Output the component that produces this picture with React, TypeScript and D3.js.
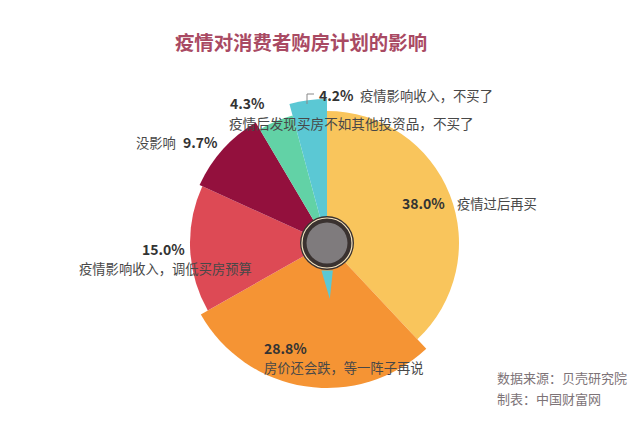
import React from 'react';
import * as d3 from 'd3';

// chart data
const categories = [
  '疫情过后再买',
  '房价还会跌，等一阵子再说',
  '疫情影响收入，调低买房预算',
  '没影响',
  '疫情后发现买房不如其他投资品，不买了',
  '疫情影响收入，不买了',
];
const shares = [38.0, 28.8, 15.0, 9.7, 4.3, 4.2];
const sliceColors = ['#F9C55C', '#F59434', '#DD4A55', '#93103D', '#62D2A6', '#5BC8D4'];

// each wedge is drawn with its own outer radius
const outerRadii = [132, 145, 137, 140, 132, 144];

const W = 640;
const H = 421;
const cx = 327;
const cy = 243;

const FONT = '"Noto Sans CJK SC", "Noto Sans", sans-serif';

export default function App() {
  const pie = d3.pie<number>().sort(null).value(d => d);
  const arcs = pie(shares);
  const arc = d3.arc<d3.PieArcDatum<number>>().innerRadius(0);

  // thin cyan sliver poking out below the hub
  const sliver = d3.line()([
    d3.pointRadial(Math.PI - 0.21, 28),
    d3.pointRadial(Math.PI - 0.05, 56),
    d3.pointRadial(Math.PI + 0.2, 28),
  ]) + 'Z';

  const pct = (i: number) => `${shares[i].toFixed(1)}%`;
  const pctStyle = { fontFamily: FONT, fontSize: 14, fontWeight: 700, fill: '#333' } as const;
  const txtStyle = { fontFamily: FONT, fontSize: 13.3, fill: '#484848' } as const;

  return (
    <svg width={W} height={H} style={{ position: 'absolute', left: 0, top: 0, background: '#fff' }}>
      <text x={301} y={41} textAnchor="middle" dominantBaseline="central"
        style={{ fontFamily: FONT, fontSize: 19.4, fontWeight: 700, fill: '#A94A63' }}>
        疫情对消费者购房计划的影响
      </text>

      <g transform={`translate(${cx},${cy})`}>
        {arcs.map((a, i) => (
          <path key={categories[i]} d={arc.outerRadius(outerRadii[i])(a) || ''} fill={sliceColors[i]} />
        ))}
        <path d={sliver} fill={sliceColors[5]} />
        <circle r={27} fill="#3a3230" />
        <circle r={25} fill="none" stroke="#f4e3c0" strokeWidth={1.2} />
        <circle r={20.5} fill="#7f7b7d" />
      </g>

      {/* 4.2% */}
      <path d="M307,104V94H314" fill="none" stroke="#888" strokeWidth={1} />
      <text x={319} y={95} dominantBaseline="central" style={pctStyle}>{pct(5)}</text>
      <text x={360} y={95} dominantBaseline="central" style={txtStyle}>{categories[5]}</text>

      {/* 4.3% */}
      <text x={230} y={103} dominantBaseline="central" style={pctStyle}>{pct(4)}</text>
      <text x={229} y={123} dominantBaseline="central" style={{ ...txtStyle, fontSize: 13.6 }}>{categories[4]}</text>

      {/* 9.7% */}
      <text x={136} y={142} dominantBaseline="central" style={txtStyle}>{categories[3]}</text>
      <text x={183} y={142} dominantBaseline="central" style={pctStyle}>{pct(3)}</text>

      {/* 38.0% */}
      <text x={402} y={203} dominantBaseline="central" style={pctStyle}>{pct(0)}</text>
      <text x={457} y={203} dominantBaseline="central" style={txtStyle}>{categories[0]}</text>

      {/* 15.0% */}
      <text x={142} y={249} dominantBaseline="central" style={pctStyle}>{pct(2)}</text>
      <text x={79} y={268} dominantBaseline="central" style={txtStyle}>{categories[2]}</text>

      {/* 28.8% */}
      <text x={264} y={348} dominantBaseline="central" style={pctStyle}>{pct(1)}</text>
      <text x={264} y={367} dominantBaseline="central" style={txtStyle}>{categories[1]}</text>

      <text x={497} y={377} dominantBaseline="central" style={{ fontFamily: FONT, fontSize: 13, fill: '#7d7377' }}>
        数据来源：贝壳研究院
      </text>
      <text x={497} y={398} dominantBaseline="central" style={{ fontFamily: FONT, fontSize: 13, fill: '#7d7377' }}>
        制表：中国财富网
      </text>
    </svg>
  );
}
